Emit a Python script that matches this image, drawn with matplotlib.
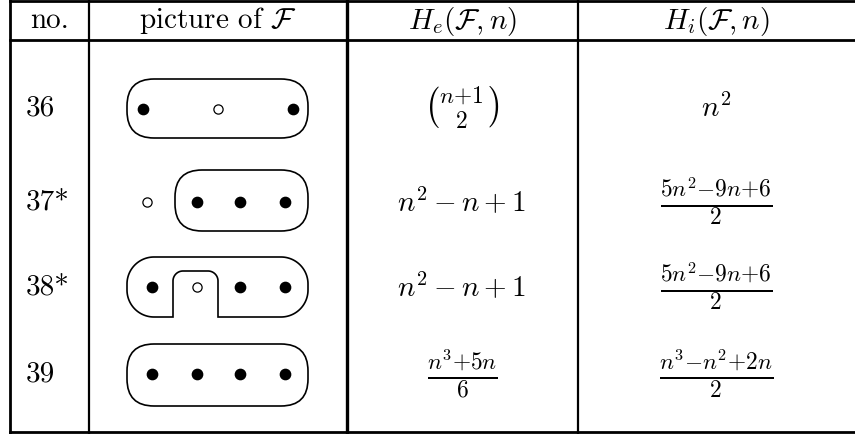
import numpy as np
import matplotlib
matplotlib.use("Agg")
import matplotlib.pyplot as plt
from matplotlib.patches import FancyBboxPatch, Polygon

plt.rcParams['mathtext.fontset'] = 'cm'
plt.rcParams['font.family'] = 'cmr10'
plt.rcParams['axes.formatter.use_mathtext'] = True

# ---- data ----
headers = ["no.", r"picture of $\mathcal{F}$", r"$H_e(\mathcal{F},n)$", r"$H_i(\mathcal{F},n)$"]
row_labels = ["36", "37*", "38*", "39"]
he_values = [r"$\binom{n{+}1}{2}$", r"$n^2-n+1$", r"$n^2-n+1$", r"$\frac{n^3{+}5n}{6}$"]
hi_values = [r"$n^2$", r"$\frac{5n^2{-}9n{+}6}{2}$", r"$\frac{5n^2{-}9n{+}6}{2}$",
             r"$\frac{n^3{-}n^2{+}2n}{2}$"]
# dot patterns: F = filled point, o = open point, '_' = gap
dot_patterns = ["F_oF", "oFFF", "FoFF", "FFFF"]
shapes = ["stadium_wide", "stadium_right", "notched", "stadium_wide"]

W, H = 855, 434
fig = plt.figure(figsize=(W / 100, H / 100), dpi=100)
ax = fig.add_axes([0, 0, 1, 1])
ax.set_xlim(0, W)
ax.set_ylim(H, 0)
ax.axis('off')

# table grid
lw_thin = 1.6
ax.plot([9.5, W], [1, 1], color='k', lw=2.0)
ax.plot([9.5, W], [40, 40], color='k', lw=2.0)
ax.plot([9.5, W], [432, 432], color='k', lw=2.0)
ax.plot([9.5, 9.5], [0, 433], color='k', lw=2.0)
ax.plot([89, 89], [0, 433], color='k', lw=lw_thin)
ax.plot([347, 347], [0, 433], color='k', lw=2.4)
ax.plot([578, 578], [0, 433], color='k', lw=lw_thin)

fs = 21
fs_small = 24
col_centers = [49.5, 218, 462, 716]
for xc, h in zip(col_centers, headers):
    ax.text(xc, 21, h, ha='center', va='center', fontsize=fs)

row_y = [108, 202, 287, 374]
dot_x = [152, 197, 240, 285]
dot_x36 = [143, 218, 293]


def arc(cx, cy, r, t0, t1, n=40):
    t = np.radians(np.linspace(t0, t1, n))
    return np.column_stack([cx + r * np.cos(t), cy + r * np.sin(t)])


def rounded_box(x0, x1, y0, y1, r):
    p = FancyBboxPatch((x0, y0), x1 - x0, y1 - y0,
                       boxstyle=f"round,pad=0,rounding_size={r}",
                       fill=False, ec='k', lw=1.2)
    ax.add_patch(p)


def notched(x0, x1, yt, yb, R, xa, xb, yn, r):
    pts = [[x0 + R, yt], [x1 - R, yt]]
    pts += list(arc(x1 - R, yt + R, R, -90, 0))
    pts += [[x1, yb - R]]
    pts += list(arc(x1 - R, yb - R, R, 0, 90))
    pts += [[xb, yb], [xb, yn + r]]
    pts += list(arc(xb - r, yn + r, r, 0, -90))
    pts += [[xa + r, yn]]
    pts += list(arc(xa + r, yn + r, r, -90, -180))
    pts += [[xa, yb], [x0 + R, yb]]
    pts += list(arc(x0 + R, yb - R, R, 90, 180))
    pts += [[x0, yt + R]]
    pts += list(arc(x0 + R, yt + R, R, 180, 270))
    ax.add_patch(Polygon(np.array(pts), closed=True, fill=False, ec='k', lw=1.2))


def dots(xs, ys, kinds):
    for x, k in zip(xs, kinds):
        if k == 'F':
            ax.scatter([x], [ys], s=55, color='k', zorder=3)
        elif k == 'o':
            ax.scatter([x], [ys], s=44, facecolor='white', edgecolor='k',
                       linewidths=0.9, zorder=3)


R = 27
for i, (lab, he, hi, pat, shp) in enumerate(zip(row_labels, he_values, hi_values,
                                                 dot_patterns, shapes)):
    y = row_y[i]
    ax.text(26, y, lab, ha='left', va='center', fontsize=fs)
    ax.text(col_centers[2], y, he, ha='center', va='center',
            fontsize=fs if '-n+' in he else fs_small)
    ax.text(col_centers[3], y, hi, ha='center', va='center',
            fontsize=fs if 'frac' not in hi else fs_small)
    if shp == "stadium_wide" and pat.startswith("F_"):
        rounded_box(127, 308, y - 29, y + 30, R)
        dots(dot_x36, y + 1, [k for k in pat if k != '_'])
    elif shp == "stadium_wide":
        rounded_box(127, 308, y - 30, y + 32, R)
        dots(dot_x, y, pat)
    elif shp == "stadium_right":
        rounded_box(175, 308, y - 32, y + 29, R)
        dots([147] + dot_x[1:], y, pat)
    elif shp == "notched":
        notched(127, 308, y - 30, y + 30, R, 173, 218, y - 16, 10)
        dots(dot_x, y, pat)

fig.savefig("out.png", dpi=100)
